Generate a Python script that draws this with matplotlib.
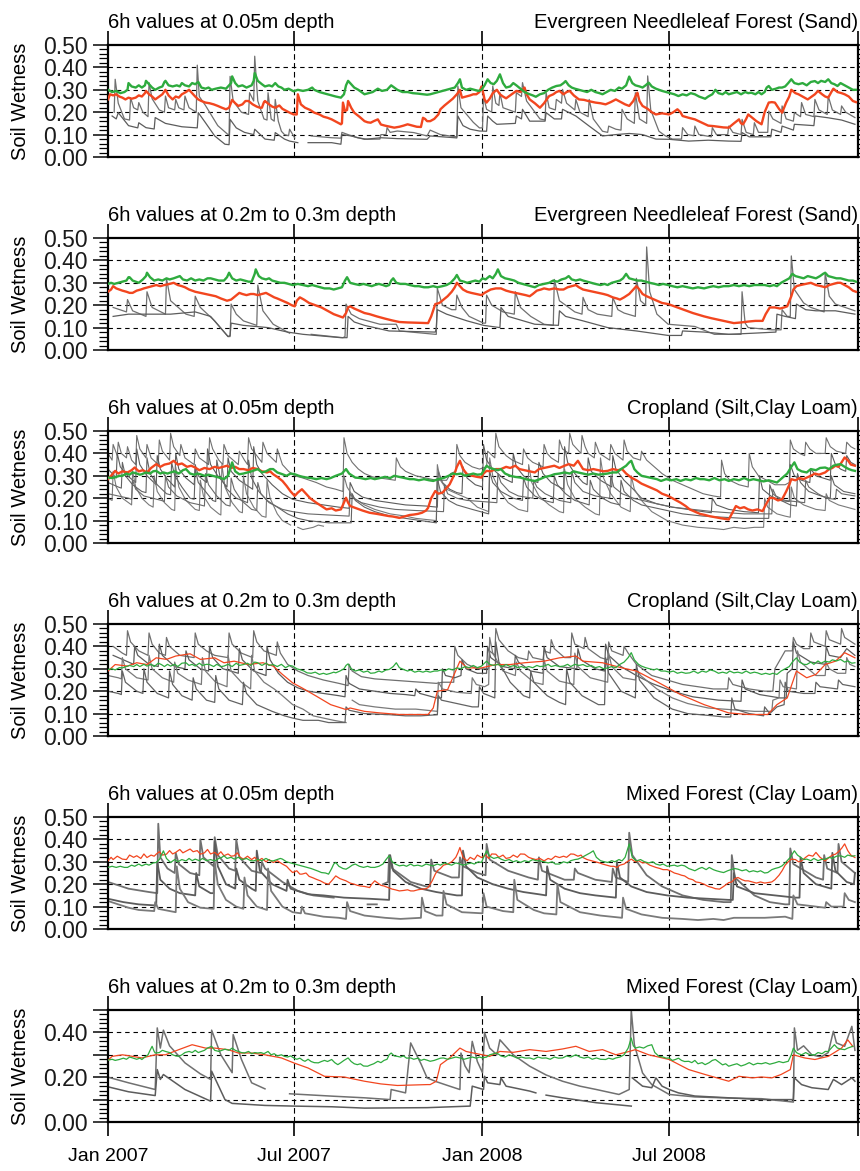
import numpy as np
import pandas as pd
import matplotlib
matplotlib.use('Agg')
import matplotlib.pyplot as plt
from matplotlib.ticker import MultipleLocator, FuncFormatter

plt.rcParams['font.family'] = ['Liberation Sans', 'DejaVu Sans']

nan = np.nan
start = pd.Timestamp('2007-01-01')
end = pd.Timestamp('2009-01-01')

# every series: (days since 1 Jan 2007, soil wetness)
# ---- panel 1: Evergreen Needleleaf Forest, 0.05m
p1_red = [(0,0.257),(2,0.28),(5,0.275),(8,0.28),(11,0.27),(14,0.265),(17,0.257),(20,0.265),(23,0.26),(27,0.265),
          (30,0.275),(33,0.27),(36,0.285),(37,0.295),(40,0.28),(43,0.27),(46,0.257),(50,0.27),(53,0.28),(56,0.30),
          (59,0.275),(63,0.257),(66,0.27),(69,0.265),(72,0.28),(76,0.29),(79,0.30),(82,0.285),(85,0.27),(88,0.257),
          (91,0.25),(95,0.243),(99,0.24),(103,0.235),(107,0.228),(111,0.22),(115,0.213),(118,0.22),(121,0.255),
          (124,0.24),(127,0.228),(131,0.235),(134,0.25),(137,0.25),(141,0.235),(145,0.225),(148,0.22),(150,0.22),
          (152,0.245),(153,0.25),(157,0.235),(160,0.225),(163,0.22),(167,0.23),(170,0.215),(174,0.205),(177,0.198),
          (181,0.19),(184,0.19),(185,0.28),(188,0.235),(192,0.22),(197,0.21),(201,0.198),(206,0.19),(210,0.18),
          (214,0.175),(218,0.168),(222,0.158),(227,0.146),(228,0.15),(229,0.243),(231,0.205),(233,0.21),(234,0.25),
          (237,0.22),(240,0.198),(245,0.18),(250,0.16),(253,0.155),(256,0.153),(259,0.16),(263,0.168),(266,0.145),
          (270,0.14),(275,0.135),(279,0.131),(284,0.135),(288,0.14),(292,0.146),(297,0.14),(301,0.135),(305,0.134),
          (307,0.175),(309,0.17),(311,0.16),(314,0.16),(318,0.17),(322,0.19),(324,0.213),(328,0.23),(332,0.245),
          (336,0.26),(340,0.28),(343,0.30),(345,0.265),(349,0.27),(353,0.275),(356,0.28),(359,0.28),(362,0.29),
          (364,0.315),(366,0.28),(367,0.257),(369,0.243),(372,0.26),(375,0.285),(379,0.30),(382,0.28),(385,0.27),
          (388,0.262),(392,0.275),(395,0.285),(398,0.295),(402,0.29),(406,0.31),(408,0.28),(411,0.257),(416,0.24),
          (421,0.22),(425,0.24),(428,0.26),(430,0.272),(434,0.28),(437,0.29),(440,0.295),(444,0.28),(447,0.29),
          (450,0.295),(454,0.275),(459,0.257),(464,0.255),(468,0.25),(475,0.243),(480,0.24),(485,0.235),(490,0.245),
          (495,0.257),(500,0.245),(504,0.235),(508,0.228),(512,0.25),(515,0.28),(516,0.287),(518,0.25),(521,0.228),
          (526,0.215),(530,0.20),(534,0.19),(540,0.195),(547,0.19),(551,0.20),(555,0.213),(558,0.20),(560,0.183),
          (566,0.175),(572,0.168),(578,0.155),(585,0.14),(590,0.138),(595,0.135),(600,0.132),(605,0.131),(610,0.15),
          (615,0.168),(617,0.15),(619,0.146),(622,0.17),(624,0.19),(628,0.175),(632,0.16),(637,0.146),(640,0.20),
          (644,0.243),(647,0.245),(650,0.243),(654,0.215),(657,0.198),(659,0.22),(661,0.243),(664,0.27),(666,0.30),
          (670,0.285),(673,0.28),(677,0.27),(682,0.257),(686,0.27),(689,0.28),(692,0.295),(696,0.28),(699,0.27),
          (702,0.265),(705,0.29),(707,0.305),(711,0.29),(715,0.285),(718,0.28),(722,0.27),(726,0.25),(729,0.245)]
p1_green = [(0,0.30),(4,0.29),(8,0.295),(12,0.285),(16,0.29),(19,0.30),(20,0.33),(23,0.315),(27,0.31),(30,0.32),
            (33,0.31),(36,0.32),(37,0.34),(40,0.325),(43,0.31),(46,0.30),(50,0.31),(53,0.315),(55,0.335),(56,0.34),
            (59,0.32),(63,0.315),(67,0.32),(70,0.315),(72,0.33),(75,0.32),(79,0.315),(82,0.33),(85,0.325),(88,0.335),
            (91,0.31),(95,0.305),(98,0.31),(101,0.30),(105,0.305),(110,0.31),(115,0.305),(120,0.33),(121,0.36),
            (124,0.33),(127,0.315),(131,0.32),(135,0.31),(140,0.32),(142,0.34),(143,0.375),(146,0.34),(150,0.325),
            (153,0.315),(157,0.32),(160,0.315),(163,0.33),(166,0.315),(169,0.31),(172,0.30),(176,0.305),(181,0.293),
            (185,0.30),(190,0.295),(195,0.30),(199,0.31),(201,0.30),(206,0.29),(210,0.285),(214,0.28),(218,0.275),
            (222,0.27),(227,0.265),(230,0.28),(232,0.32),(234,0.34),(237,0.325),(240,0.31),(244,0.30),(247,0.29),
            (250,0.28),(254,0.285),(258,0.29),(263,0.305),(267,0.295),(272,0.30),(276,0.32),(279,0.31),(282,0.30),
            (287,0.29),(292,0.29),(297,0.285),(302,0.283),(307,0.28),(311,0.278),(314,0.28),(318,0.285),(322,0.29),
            (326,0.295),(330,0.30),(334,0.305),(338,0.31),(341,0.33),(343,0.347),(345,0.31),(349,0.30),(353,0.305),
            (357,0.30),(361,0.295),(364,0.30),(367,0.32),(370,0.347),(373,0.33),(376,0.325),(379,0.34),(382,0.369),
            (385,0.33),(388,0.31),(392,0.315),(395,0.33),(398,0.32),(402,0.305),(406,0.29),(411,0.28),(414,0.275),
            (417,0.269),(421,0.28),(425,0.285),(429,0.30),(433,0.31),(437,0.317),(441,0.32),(444,0.33),(446,0.339),
            (449,0.32),(452,0.31),(455,0.305),(459,0.30),(463,0.295),(467,0.29),(471,0.30),(475,0.29),(479,0.285),
            (482,0.28),(486,0.29),(490,0.30),(494,0.295),(498,0.31),(501,0.305),(505,0.32),(508,0.359),(511,0.33),
            (514,0.32),(518,0.315),(521,0.31),(524,0.32),(527,0.332),(530,0.315),(534,0.305),(537,0.30),(540,0.295),
            (544,0.29),(548,0.285),(552,0.28),(556,0.272),(560,0.28),(564,0.275),(568,0.285),(572,0.28),(576,0.27),
            (579,0.265),(582,0.26),(585,0.27),(589,0.28),(592,0.30),(595,0.285),(599,0.28),(602,0.29),(605,0.28),
            (609,0.285),(613,0.29),(617,0.28),(621,0.29),(624,0.285),(627,0.287),(631,0.28),(634,0.29),(637,0.28),
            (640,0.29),(642,0.31),(644,0.317),(647,0.30),(651,0.305),(654,0.31),(657,0.31),(660,0.315),(663,0.33),
            (666,0.347),(669,0.33),(673,0.325),(677,0.33),(681,0.32),(685,0.335),(689,0.339),(692,0.33),(695,0.34),
            (699,0.335),(702,0.347),(705,0.33),(708,0.325),(711,0.317),(714,0.33),(718,0.32),(722,0.31),(726,0.30),
            (729,0.30)]
p1_grey_a = [(6,0.20),(7,0.347),(10,0.24),(16,0.17),(21,0.165),(22,0.265),(25,0.22),(29,0.21),(30,0.243),(34,0.20),
             (39,0.18),(40,0.332),(43,0.26),(50,0.21),(55,0.20),(56,0.272),(59,0.22),(65,0.21),(66,0.257),(69,0.22),
             (74,0.21),(75,0.272),(79,0.22),(86,0.20),(87,0.41),(89,0.27),(95,0.23),(101,0.185),(107,0.14),(117,0.10),
             (118,0.10),(119,0.36),(122,0.25),(130,0.20),(137,0.19),(138,0.287),(142,0.25),(143,0.45),(146,0.25),
             (152,0.17),(155,0.165),(156,0.287),(159,0.17),(162,0.16),(163,0.257),(166,0.16),(169,0.115),(172,0.10),
             (176,0.095),(177,0.124),(182,0.085),(185,nan),(198,0.094),(218,0.086),(227,0.084),(228,0.11),(234,0.10),
             (243,0.086),(253,0.079),(265,0.08),(266,0.10),(271,0.10),(272,0.131),(275,0.11),(282,0.116),(298,0.109),
             (311,0.094),(314,0.12),(324,0.10),(333,0.094),(340,0.09),(341,0.317),(344,0.22),(356,0.155),(362,0.13),
             (365,0.13),(366,0.272),(369,0.213),(374,0.20),(375,0.317),(378,0.24),(381,0.23),(382,0.287),(385,0.22),
             (397,0.20),(398,0.287),(403,0.27),(404,0.332),(408,0.25),(421,0.17),(426,0.165),(427,0.287),(430,0.22),
             (436,0.21),(437,0.257),(442,0.24),(443,0.302),(447,0.24),(455,0.21),(456,0.257),(460,0.20),(468,0.18),
             (469,0.257),(473,0.17),(482,0.115),(487,0.11),(488,0.138),(495,0.124),(500,0.12),(501,0.213),(506,0.17),
             (513,0.15),(514,0.287),(518,0.17),(525,0.15),(526,0.362),(529,0.21),(537,0.115),(543,0.095),(550,0.08),
             (559,0.08),(560,0.131),(565,0.10),(571,0.095),(572,0.138),(576,0.10),(588,0.09),(589,0.131),(593,0.10),
             (604,0.10),(605,0.138),(609,0.11),(617,0.10),(618,0.168),(622,0.11),(629,0.10),(630,0.153),(634,0.11),
             (643,0.11),(644,0.205),(648,0.17),(656,0.15),(657,0.228),(661,0.17),(668,0.16),(669,0.198),(675,0.18),
             (676,0.243),(680,0.19),(688,0.18),(689,0.257),(693,0.21),(701,0.19),(702,0.272),(706,0.21),(714,0.19),
             (715,0.228),(719,0.20),(728,0.176)]
p1_grey_b = [(4,0.183),(8,0.17),(10,0.198),(20,0.14),(29,0.13),(30,0.153),(37,0.131),(45,0.125),(46,0.176),(56,0.15),
             (72,0.135),(87,0.13),(88,0.198),(95,0.153),(104,0.094),(114,0.057),(118,0.055),(119,0.168),(125,0.13),
             (133,0.11),(142,0.10),(143,0.124),(153,0.08),(162,0.075),(163,0.109),(172,0.08),(177,0.071),(185,0.064),
             (188,nan),(195,0.064),(218,0.064),(227,0.057),(228,0.10),(237,0.094),(250,0.079),(266,0.086),(282,0.082),
             (311,0.079),(314,0.094),(338,0.086),(340,0.085),(341,0.183),(346,0.14),(353,0.124),(362,0.116),
             (369,0.115),(370,0.183),(375,0.16),(379,0.146),(397,0.15),(398,0.183),(403,0.17),(404,0.213),(411,0.16),
             (426,0.16),(427,0.198),(435,0.17),(442,0.17),(443,0.213),(456,0.183),(469,0.138),(482,0.094),(495,0.10),
             (508,0.105),(521,0.10),(534,0.08),(547,0.079),(566,0.071),(585,0.075),(605,0.071),(617,0.07),(618,0.109),
             (625,0.09),(637,0.09),(646,0.09),(647,0.124),(656,0.11),(657,0.138),(668,0.12),(669,0.146),(688,0.14),
             (689,0.183),(702,0.175),(715,0.165),(728,0.146)]

# ---- panel 2: Evergreen Needleleaf Forest, 0.2-0.3m
p2_red = [(0,0.26),(3,0.27),(5,0.285),(8,0.275),(11,0.27),(14,0.265),(18,0.26),(21,0.255),(24,0.255),(28,0.265),
          (32,0.27),(35,0.275),(39,0.28),(43,0.285),(47,0.29),(51,0.285),(55,0.29),(60,0.295),(64,0.30),(68,0.29),
          (72,0.285),(75,0.28),(79,0.27),(85,0.26),(90,0.255),(95,0.25),(100,0.245),(105,0.24),(110,0.23),(116,0.22),
          (120,0.225),(124,0.24),(128,0.255),(131,0.25),(135,0.245),(139,0.25),(142,0.25),(146,0.245),(150,0.25),
          (154,0.255),(158,0.245),(162,0.235),(165,0.23),(170,0.22),(175,0.21),(179,0.20),(182,0.195),(184,0.22),
          (187,0.235),(191,0.225),(196,0.21),(202,0.20),(208,0.19),(214,0.175),(220,0.16),(226,0.15),(229,0.145),
          (232,0.165),(234,0.19),(236,0.195),(240,0.185),(245,0.175),(250,0.165),(255,0.16),(262,0.15),(270,0.14),
          (277,0.132),(284,0.125),(292,0.123),(300,0.122),(306,0.121),(312,0.12),(315,0.15),(319,0.205),(323,0.21),
          (327,0.225),(331,0.24),(335,0.26),(338,0.28),(340,0.30),(343,0.285),(346,0.27),(350,0.26),(354,0.255),
          (359,0.25),(364,0.245),(367,0.255),(369,0.26),(373,0.27),(378,0.275),(383,0.275),(388,0.265),(392,0.26),
          (397,0.255),(402,0.25),(407,0.245),(411,0.24),(414,0.25),(418,0.265),(422,0.27),(425,0.275),(430,0.27),
          (435,0.275),(440,0.27),(444,0.27),(448,0.28),(452,0.285),(456,0.29),(459,0.28),(463,0.27),(468,0.265),
          (473,0.26),(478,0.255),(483,0.25),(487,0.245),(492,0.235),(496,0.23),(499,0.225),(503,0.235),(508,0.25),
          (512,0.27),(515,0.285),(518,0.27),(521,0.25),(525,0.24),(530,0.23),(535,0.22),(540,0.21),(546,0.205),
          (552,0.195),(558,0.185),(564,0.175),(570,0.165),(575,0.158),(581,0.15),(588,0.142),(595,0.135),(602,0.128),
          (610,0.12),(617,0.123),(624,0.127),(631,0.13),(638,0.13),(641,0.16),(645,0.19),(650,0.19),(655,0.185),
          (659,0.19),(662,0.195),(666,0.24),(668,0.27),(671,0.285),(675,0.29),(680,0.295),(685,0.30),(690,0.29),
          (695,0.285),(699,0.28),(703,0.29),(707,0.295),(711,0.30),(714,0.30),(718,0.29),(722,0.28),(726,0.265),
          (729,0.26)]
p2_green = [(0,0.295),(3,0.30),(6,0.295),(10,0.30),(14,0.305),(18,0.31),(20,0.325),(21,0.325),(24,0.31),(27,0.305),
            (30,0.30),(34,0.315),(37,0.33),(38,0.345),(41,0.325),(45,0.31),(49,0.315),(53,0.31),(57,0.32),(60,0.315),
            (64,0.32),(67,0.325),(70,0.33),(73,0.315),(77,0.31),(81,0.32),(85,0.31),(89,0.315),(93,0.31),(97,0.32),
            (100,0.32),(104,0.315),(108,0.31),(113,0.31),(116,0.325),(118,0.345),(121,0.32),(125,0.31),(129,0.315),
            (133,0.31),(137,0.305),(140,0.305),(143,0.34),(144,0.36),(147,0.33),(150,0.32),(154,0.315),(157,0.32),
            (160,0.31),(164,0.305),(168,0.30),(172,0.30),(176,0.295),(180,0.29),(185,0.295),(190,0.29),(195,0.285),
            (199,0.29),(203,0.285),(207,0.28),(211,0.275),(216,0.275),(220,0.27),(224,0.275),(228,0.28),(231,0.31),
            (233,0.325),(236,0.30),(240,0.295),(245,0.29),(249,0.295),(253,0.29),(257,0.285),(260,0.29),(264,0.295),
            (268,0.29),(271,0.285),(274,0.29),(276,0.31),(278,0.32),(281,0.30),(285,0.295),(290,0.295),(294,0.29),
            (299,0.285),(303,0.285),(308,0.28),(312,0.28),(317,0.285),(321,0.28),(326,0.285),(330,0.29),(334,0.30),
            (338,0.32),(340,0.335),(343,0.31),(347,0.305),(350,0.30),(354,0.305),(358,0.31),(362,0.305),(365,0.32),
            (368,0.315),(372,0.33),(375,0.32),(378,0.34),(380,0.36),(383,0.33),(387,0.32),(392,0.315),(396,0.31),
            (400,0.30),(404,0.295),(408,0.29),(412,0.285),(416,0.28),(420,0.29),(425,0.295),(430,0.30),(434,0.31),
            (438,0.305),(442,0.315),(446,0.32),(449,0.33),(452,0.315),(456,0.31),(460,0.315),(463,0.31),(467,0.305),
            (471,0.30),(475,0.295),(480,0.29),(484,0.295),(487,0.29),(491,0.30),(495,0.305),(499,0.31),(502,0.32),
            (505,0.34),(508,0.32),(512,0.315),(516,0.31),(520,0.31),(524,0.305),(528,0.30),(533,0.295),(537,0.29),
            (541,0.295),(546,0.29),(550,0.285),(555,0.28),(560,0.285),(565,0.28),(570,0.275),(575,0.28),(581,0.275),
            (585,0.28),(590,0.285),(595,0.28),(600,0.285),(605,0.285),(610,0.29),(615,0.285),(620,0.29),(625,0.285),
            (630,0.29),(635,0.29),(640,0.29),(645,0.285),(649,0.29),(652,0.285),(656,0.30),(660,0.31),(664,0.32),
            (667,0.34),(670,0.33),(674,0.325),(678,0.32),(682,0.33),(686,0.325),(690,0.32),(694,0.33),(697,0.34),
            (699,0.345),(702,0.33),(706,0.325),(710,0.32),(714,0.32),(718,0.315),(722,0.31),(726,0.31),(729,0.305)]
p2_grey_a = [(5,0.19),(18,0.17),(19,0.225),(24,0.175),(37,0.15),(38,0.26),(43,0.19),(56,0.16),(57,0.32),(61,0.22),
             (76,0.16),(84,0.15),(85,0.24),(90,0.19),(104,0.13),(117,0.06),(119,0.06),(120,0.205),(125,0.16),
             (132,0.13),(145,0.11),(146,0.29),(151,0.175),(161,0.115),(177,0.075),(180,nan),(198,0.07),(229,0.055),
             (231,0.06),(232,0.205),(237,0.16),(245,0.14),(265,0.115),(281,0.115),(284,0.085),(319,0.07),(320,0.07),
             (321,0.275),(326,0.20),(335,0.18),(339,0.18),(340,0.245),(345,0.19),(352,0.15),(366,0.12),(368,0.12),
             (369,0.245),(374,0.20),(385,0.17),(396,0.16),(397,0.26),(402,0.19),(412,0.15),(425,0.115),(434,0.11),
             (435,0.315),(440,0.22),(455,0.17),(462,0.16),(463,0.235),(468,0.18),(477,0.16),(491,0.15),(492,0.235),
             (497,0.18),(503,0.165),(514,0.15),(515,0.32),(519,0.22),(524,0.20),(525,0.46),(528,0.26),(535,0.16),
             (546,0.115),(572,0.105),(591,0.07),(617,0.07),(618,0.26),(621,0.12),(624,0.10),(647,0.09),(656,0.09),
             (657,0.18),(662,0.15),(665,0.15),(666,0.42),(669,0.27),(678,0.21),(685,0.19),(698,0.17),(699,0.345),
             (703,0.24),(709,0.205),(728,0.175)]
p2_grey_b = [(5,0.15),(20,0.16),(40,0.16),(61,0.16),(85,0.17),(100,0.15),(117,0.06),(119,0.065),(120,0.12),
             (132,0.11),(156,0.10),(175,0.08),(190,0.07),(227,0.055),(233,0.055),(234,0.15),(240,0.125),(250,0.11),
             (274,0.085),(319,0.08),(320,0.10),(321,0.18),(330,0.16),(350,0.13),(366,0.11),(382,0.10),(383,0.19),
             (390,0.15),(416,0.115),(439,0.11),(440,0.175),(446,0.15),(463,0.13),(487,0.10),(515,0.085),(546,0.065),
             (559,0.065),(560,0.085),(581,0.08),(605,0.07),(629,0.075),(651,0.08),(652,0.16),(660,0.15),(670,0.14),
             (671,0.205),(680,0.18),(690,0.175),(709,0.175),(728,0.16)]

# ---- panel 3: Cropland, 0.05m
p3_red = [(0,0.285),(3,0.30),(7,0.322),(10,0.31),(14,0.32),(19,0.315),(23,0.325),(26,0.337),(30,0.32),(34,0.325),
          (38,0.315),(42,0.335),(45,0.345),(47,0.352),(51,0.34),(55,0.35),(60,0.355),(64,0.367),(68,0.35),(72,0.355),
          (77,0.34),(81,0.345),(85,0.337),(89,0.325),(94,0.335),(99,0.33),(104,0.34),(108,0.335),(112,0.34),
          (116,0.345),(120,0.335),(124,0.34),(128,0.33),(132,0.33),(137,0.325),(141,0.335),(146,0.33),(150,0.32),
          (155,0.315),(158,0.32),(161,0.307),(165,0.295),(170,0.277),(174,0.255),(178,0.23),(182,0.21),(185,0.225),
          (189,0.24),(193,0.22),(197,0.20),(203,0.18),(208,0.165),(213,0.15),(218,0.155),(222,0.145),(227,0.15),
          (229,0.17),(232,0.202),(234,0.18),(236,0.165),(242,0.155),(248,0.145),(255,0.135),(262,0.13),(268,0.125),
          (274,0.12),(278,0.118),(284,0.112),(290,0.12),(294,0.125),(298,0.127),(302,0.13),(306,0.135),(310,0.145),
          (312,0.157),(315,0.20),(319,0.232),(322,0.22),(326,0.225),(329,0.24),(333,0.262),(337,0.30),(340,0.34),
          (343,0.367),(346,0.33),(350,0.307),(355,0.30),(360,0.295),(364,0.292),(366,0.31),(369,0.322),(373,0.32),
          (378,0.33),(383,0.33),(388,0.34),(392,0.335),(397,0.345),(401,0.33),(406,0.325),(411,0.32),(416,0.315),
          (420,0.33),(425,0.335),(430,0.34),(435,0.345),(440,0.335),(445,0.345),(449,0.352),(454,0.345),(458,0.367),
          (461,0.345),(463,0.33),(468,0.325),(473,0.33),(478,0.325),(483,0.32),(487,0.322),(492,0.33),(497,0.325),
          (501,0.33),(505,0.31),(510,0.292),(515,0.28),(520,0.265),(525,0.255),(530,0.245),(535,0.235),(540,0.22),
          (546,0.21),(552,0.195),(558,0.18),(563,0.165),(567,0.15),(572,0.14),(577,0.13),(582,0.125),(586,0.12),
          (592,0.115),(598,0.11),(605,0.105),(608,0.13),(612,0.165),(616,0.155),(620,0.16),(624,0.15),(628,0.145),
          (633,0.15),(638,0.142),(641,0.17),(645,0.202),(649,0.20),(653,0.19),(657,0.195),(661,0.23),(664,0.26),
          (666,0.285),(670,0.28),(674,0.29),(678,0.285),(681,0.292),(685,0.30),(689,0.31),(693,0.305),(696,0.31),
          (699,0.315),(703,0.33),(706,0.335),(709,0.345),(712,0.34),(715,0.36),(718,0.382),(721,0.37),(724,0.35),
          (728,0.345)]
p3_green = [(0,0.292),(4,0.29),(8,0.295),(11,0.30),(14,0.30),(18,0.31),(21,0.305),(24,0.315),(28,0.31),(31,0.305),
            (33,0.307),(37,0.315),(41,0.31),(44,0.32),(47,0.322),(51,0.31),(54,0.315),(58,0.31),(61,0.315),(65,0.32),
            (69,0.31),(73,0.325),(76,0.33),(80,0.31),(84,0.305),(87,0.31),(90,0.307),(94,0.30),(98,0.305),(102,0.30),
            (106,0.295),(110,0.29),(113,0.285),(117,0.30),(119,0.33),(121,0.36),(124,0.32),(128,0.307),(132,0.31),
            (136,0.315),(140,0.32),(143,0.325),(146,0.33),(150,0.315),(154,0.32),(158,0.33),(161,0.33),(165,0.315),
            (170,0.307),(174,0.30),(178,0.31),(182,0.307),(186,0.30),(190,0.295),(194,0.292),(198,0.29),(203,0.285),
            (208,0.29),(213,0.285),(217,0.29),(222,0.30),(228,0.31),(232,0.33),(235,0.31),(241,0.292),(246,0.29),
            (251,0.285),(256,0.29),(260,0.285),(265,0.29),(270,0.295),(275,0.29),(279,0.30),(284,0.295),(289,0.29),
            (294,0.285),(298,0.285),(303,0.28),(308,0.285),(313,0.28),(317,0.277),(322,0.285),(327,0.29),(332,0.30),
            (336,0.31),(340,0.307),(344,0.31),(348,0.30),(352,0.305),(356,0.31),(360,0.305),(364,0.307),(367,0.33),
            (369,0.345),(372,0.335),(376,0.33),(380,0.325),(383,0.33),(387,0.31),(392,0.30),(397,0.295),(402,0.292),
            (407,0.285),(412,0.28),(416,0.277),(421,0.285),(426,0.295),(431,0.30),(435,0.307),(440,0.31),(445,0.315),
            (450,0.31),(454,0.32),(458,0.315),(463,0.31),(468,0.305),(473,0.31),(478,0.305),(482,0.307),(487,0.31),
            (492,0.315),(496,0.315),(500,0.33),(505,0.345),(508,0.36),(510,0.367),(513,0.33),(516,0.315),(520,0.30),
            (525,0.295),(530,0.29),(535,0.285),(539,0.277),(544,0.285),(549,0.28),(554,0.285),(558,0.277),(563,0.285),
            (568,0.28),(573,0.29),(577,0.285),(581,0.285),(586,0.28),(591,0.29),(596,0.28),(601,0.285),(605,0.277),
            (610,0.285),(615,0.28),(620,0.29),(625,0.28),(629,0.285),(634,0.28),(639,0.275),(644,0.28),(648,0.275),
            (652,0.27),(657,0.29),(662,0.31),(666,0.34),(669,0.36),(672,0.33),(676,0.32),(681,0.315),(685,0.33),
            (690,0.325),(694,0.335),(699,0.337),(703,0.33),(707,0.345),(711,0.35),(714,0.352),(718,0.34),(722,0.33),
            (725,0.325),(728,0.322)]
p3_grey_1 = [(0,0.40),(4,0.37),(5,0.44),(9,0.39),(10,0.45),(13,0.40),(18,0.38),(19,0.43),(23,0.37),(27,0.35),
             (28,0.48),(31,0.42),(37,0.38),(38,0.44),(42,0.38),(49,0.35),(50,0.46),(53,0.41),(60,0.37),(61,0.49),
             (64,0.43),(70,0.39),(71,0.44),(75,0.38),(84,0.35),(85,0.42),(89,0.38),(98,0.35),(99,0.47),(102,0.42),
             (108,0.37),(112,0.35),(113,0.44),(117,0.39),(127,0.35),(128,0.41),(133,0.37),(136,0.35),(137,0.47),
             (140,0.42),(150,0.36),(151,0.45),(155,0.40),(164,0.36),(165,0.42),(170,0.35),(176,0.32),(182,0.30),
             (190,0.29),(203,0.27),(213,0.25),(222,0.24),(229,0.23),(230,0.47),(233,0.40),(238,0.36),(244,0.33),
             (250,0.31),(258,0.295),(265,0.29),(273,0.285),(280,0.28),(281,0.38),(285,0.34),(290,0.32),(300,0.30),
             (310,0.29),(320,0.28),(330,0.28),(334,0.31),(339,0.32),(340,0.44),(343,0.39),(348,0.36),(355,0.34),
             (362,0.33),(369,0.34),(370,0.41),(377,0.38),(378,0.49),(381,0.43),(388,0.39),(394,0.37),(404,0.35),
             (405,0.42),(409,0.38),(414,0.36),(424,0.34),(425,0.44),(428,0.40),(432,0.38),(439,0.36),(440,0.46),
             (443,0.42),(449,0.40),(450,0.49),(453,0.44),(461,0.40),(462,0.48),(465,0.43),(468,0.40),(474,0.38),
             (475,0.45),(479,0.40),(489,0.37),(490,0.44),(494,0.40),(502,0.37),(503,0.46),(506,0.41),(512,0.38),
             (519,0.37),(520,0.41),(525,0.37),(530,0.35),(540,0.31),(550,0.28),(560,0.26),(570,0.24),(580,0.22),
             (590,0.21),(597,0.205),(598,0.37),(601,0.31),(606,0.28),(615,0.26),(624,0.25),(625,0.40),(628,0.34),
             (634,0.30),(642,0.28),(650,0.26),(660,0.26),(664,0.27),(665,0.46),(668,0.42),(674,0.40),(679,0.39),
             (680,0.45),(684,0.42),(690,0.40),(699,0.40),(700,0.47),(704,0.43),(710,0.41),(719,0.40),(720,0.45),
             (724,0.43),(728,0.42)]
p3_grey_2 = [(0,0.33),(8,0.29),(9,0.40),(12,0.34),(19,0.30),(27,0.27),(28,0.42),(31,0.35),(38,0.30),(47,0.26),
             (48,0.39),(51,0.33),(57,0.29),(65,0.25),(66,0.40),(69,0.33),(76,0.29),(84,0.26),(85,0.35),(88,0.30),
             (96,0.27),(97,0.42),(100,0.35),(107,0.30),(116,0.25),(117,0.38),(120,0.32),(128,0.28),(141,0.24),
             (142,0.43),(145,0.35),(150,0.31),(160,0.26),(170,0.22),(180,0.195),(195,0.18),(210,0.17),(225,0.16),
             (235,0.155),(236,0.27),(240,0.23),(248,0.205),(260,0.19),(275,0.18),(290,0.17),(310,0.165),(321,0.16),
             (322,0.32),(326,0.27),(333,0.24),(340,0.225),(345,0.22),(346,0.34),(350,0.29),(358,0.26),(365,0.25),
             (366,0.44),(369,0.37),(375,0.33),(385,0.29),(394,0.27),(395,0.40),(398,0.34),(405,0.30),(412,0.28),
             (419,0.27),(420,0.36),(424,0.31),(432,0.27),(444,0.24),(445,0.43),(448,0.36),(455,0.31),(463,0.27),
             (467,0.26),(468,0.38),(471,0.32),(480,0.28),(491,0.25),(492,0.39),(495,0.33),(503,0.28),(512,0.24),
             (520,0.20),(535,0.175),(550,0.16),(565,0.15),(580,0.14),(588,0.135),(589,0.20),(593,0.17),(605,0.15),
             (620,0.14),(634,0.135),(635,0.30),(638,0.24),(646,0.21),(655,0.19),(664,0.185),(665,0.35),(669,0.30),
             (676,0.28),(684,0.27),(685,0.33),(690,0.30),(697,0.29),(704,0.28),(705,0.40),(709,0.35),(714,0.33),
             (719,0.32),(720,0.39),(724,0.36),(728,0.35)]
p3_grey_3 = [(0,0.20),(4,0.19),(5,0.32),(8,0.25),(14,0.20),(20,0.18),(23,0.17),(24,0.32),(27,0.25),(33,0.20),
             (40,0.17),(44,0.16),(45,0.30),(48,0.23),(55,0.18),(62,0.15),(65,0.145),(66,0.34),(69,0.25),(76,0.19),
             (85,0.15),(89,0.145),(90,0.28),(93,0.21),(100,0.16),(108,0.13),(110,0.125),(111,0.35),(114,0.25),
             (121,0.18),(128,0.14),(131,0.135),(132,0.30),(135,0.22),(142,0.16),(150,0.12),(154,0.115),(155,0.28),
             (158,0.20),(165,0.13),(170,0.10),(178,0.08),(181,nan),(185,0.07),(190,0.06),(200,0.07),(205,0.08),
             (210,0.075),(215,nan),(229,0.16),(230,0.30),(233,0.25),(240,0.20),(250,0.17),(260,0.15),(275,0.13),
             (290,0.12),(300,0.11),(320,0.10),(321,0.35),(324,0.28),(330,0.24),(340,0.22),(350,0.20),(360,0.16),
             (371,0.14),(372,0.38),(375,0.30),(382,0.23),(390,0.18),(400,0.15),(409,0.14),(410,0.35),(413,0.27),
             (420,0.21),(430,0.17),(440,0.14),(444,0.135),(445,0.33),(448,0.26),(455,0.20),(465,0.16),(475,0.13),
             (479,0.125),(480,0.38),(483,0.29),(490,0.22),(500,0.16),(509,0.14),(510,0.30),(513,0.24),(520,0.19),
             (530,0.14),(545,0.10),(560,0.08),(575,0.07),(590,0.065),(600,0.06),(610,0.07),(620,0.065),(630,0.07),
             (639,0.07),(640,0.20),(643,0.16),(652,0.13),(660,0.12),(665,0.115),(666,0.25),(669,0.20),(678,0.17),
             (690,0.15),(699,0.145),(700,0.22),(703,0.19),(712,0.17),(728,0.15)]
p3_grey_4 = [(0,0.27),(10,0.25),(13,0.245),(14,0.36),(17,0.30),(24,0.26),(33,0.23),(37,0.225),(38,0.38),(41,0.31),
             (48,0.26),(57,0.22),(61,0.215),(62,0.36),(65,0.30),(72,0.25),(80,0.20),(84,0.195),(85,0.33),(88,0.27),
             (95,0.23),(102,0.19),(105,0.185),(106,0.37),(109,0.30),(116,0.24),(125,0.20),(136,0.18),(137,0.37),
             (140,0.29),(147,0.23),(155,0.19),(165,0.16),(175,0.13),(185,0.11),(195,0.10),(205,0.095),(215,0.09),
             (225,0.09),(237,0.09),(238,0.22),(241,0.19),(250,0.16),(260,0.14),(275,0.12),(290,0.11),(305,0.10),
             (320,0.09),(321,0.29),(324,0.23),(332,0.19),(340,0.17),(355,0.15),(371,0.13),(372,0.32),(375,0.27),
             (383,0.23),(395,0.20),(404,0.19),(405,0.29),(408,0.25),(416,0.21),(425,0.19),(434,0.18),(435,0.30),
             (438,0.26),(446,0.22),(455,0.19),(469,0.17),(470,0.28),(473,0.24),(482,0.20),(490,0.18),(499,0.17),
             (500,0.28),(503,0.23),(512,0.19),(520,0.17),(540,0.15),(560,0.13),(580,0.12),(600,0.115),(620,0.11),
             (644,0.11),(645,0.26),(648,0.22),(656,0.19),(665,0.17),(671,0.165),(672,0.31),(675,0.27),(683,0.23),
             (695,0.21),(704,0.20),(705,0.30),(708,0.26),(717,0.23),(728,0.22)]
p3_grey_5 = [(0,0.22),(20,0.20),(23,0.195),(24,0.28),(27,0.24),(35,0.21),(52,0.19),(55,0.185),(56,0.30),(59,0.25),
             (67,0.21),(80,0.18),(90,0.17),(94,0.165),(95,0.31),(98,0.26),(106,0.21),(115,0.17),(119,0.165),
             (120,0.29),(123,0.24),(130,0.19),(140,0.15),(145,0.145),(146,0.27),(149,0.22),(157,0.18),(170,0.15),
             (180,0.14),(195,0.13),(215,0.125),(235,0.12),(236,0.22),(239,0.20),(247,0.18),(265,0.16),(280,0.15),
             (300,0.145),(327,0.14),(328,0.26),(331,0.22),(340,0.20),(350,0.19),(365,0.185),(379,0.18),(380,0.31),
             (383,0.27),(391,0.23),(400,0.21),(414,0.20),(415,0.28),(418,0.25),(426,0.22),(440,0.19),(451,0.18),
             (452,0.32),(455,0.27),(463,0.23),(475,0.21),(489,0.20),(490,0.30),(493,0.25),(501,0.22),(512,0.20),
             (530,0.18),(550,0.16),(570,0.15),(590,0.14),(605,0.135),(620,0.13),(647,0.13),(648,0.24),(651,0.21),
             (660,0.19),(670,0.185),(679,0.18),(680,0.28),(683,0.25),(692,0.22),(700,0.20),(709,0.195),(710,0.24),
             (715,0.22),(728,0.21)]

# ---- panel 4: Cropland, 0.2-0.3m
p4_red = [(0,0.29),(7,0.319),(19,0.312),(28,0.327),(38,0.319),(47,0.349),(57,0.342),(66,0.357),
          (80,0.367),(90,0.342),(104,0.349),(113,0.327),(123,0.334),(137,0.319),(151,0.327),(161,0.312),
          (170,0.275),(180,0.237),(189,0.215),(203,0.178),(217,0.14),(232,0.118),(236,0.125),(250,0.11),
          (265,0.103),(284,0.096),(312,0.096),(317,0.125),(321,0.20),(331,0.207),(336,0.26),(343,0.334),
          (350,0.304),(364,0.304),(378,0.319),(392,0.319),(406,0.327),(425,0.334),(440,0.349),(456,0.357),
          (463,0.334),(482,0.327),(501,0.304),(515,0.29),(534,0.245),(558,0.185),(581,0.14),(605,0.103),
          (624,0.096),(643,0.096),(652,0.14),(662,0.17),(671,0.29),(681,0.26),(690,0.275),(699,0.319),
          (709,0.334),(718,0.372),(728,0.349)]
p4_green = [(0,0.297),(4,0.30),(7,0.295),(11,0.305),(14,0.304),(18,0.31),(21,0.315),(25,0.31),(28,0.319),(31,0.31),
            (35,0.32),(38,0.312),(42,0.32),(45,0.31),(49,0.325),(52,0.319),(55,0.31),(58,0.32),(61,0.312),(65,0.32),
            (68,0.31),(72,0.325),(76,0.327),(79,0.315),(82,0.32),(85,0.312),(89,0.325),(92,0.315),(96,0.32),
            (99,0.319),(103,0.31),(106,0.32),(110,0.31),(113,0.312),(117,0.32),(121,0.31),(125,0.325),(128,0.315),
            (132,0.319),(136,0.325),(139,0.315),(143,0.33),(146,0.327),(150,0.315),(154,0.325),(157,0.315),
            (161,0.319),(165,0.31),(169,0.32),(173,0.305),(177,0.315),(180,0.312),(184,0.30),(188,0.295),(191,0.29),
            (194,0.282),(198,0.28),(202,0.285),(206,0.275),(210,0.28),(213,0.275),(217,0.28),(220,0.285),(222,0.282),
            (226,0.29),(230,0.30),(232,0.315),(234,0.322),(237,0.30),(241,0.29),(245,0.295),(249,0.285),(253,0.29),
            (256,0.28),(260,0.282),(264,0.29),(267,0.285),(271,0.295),(274,0.297),(278,0.31),(281,0.327),(284,0.305),
            (288,0.297),(292,0.29),(295,0.295),(299,0.285),(303,0.29),(307,0.285),(310,0.29),(314,0.285),(318,0.29),
            (321,0.29),(325,0.295),(328,0.29),(332,0.30),(336,0.295),(340,0.304),(344,0.30),(348,0.31),(352,0.305),
            (356,0.315),(360,0.305),(364,0.312),(367,0.325),(369,0.334),(372,0.32),(376,0.315),(380,0.32),(384,0.31),
            (388,0.319),(392,0.31),(396,0.315),(399,0.305),(403,0.31),(406,0.304),(410,0.31),(414,0.305),(418,0.315),
            (421,0.31),(425,0.312),(429,0.32),(432,0.31),(436,0.315),(440,0.31),(444,0.312),(448,0.32),(451,0.31),
            (455,0.32),(459,0.315),(463,0.319),(467,0.31),(471,0.315),(475,0.305),(479,0.31),(483,0.30),(487,0.304),
            (491,0.31),(495,0.305),(499,0.32),(503,0.33),(507,0.35),(510,0.372),(513,0.34),(517,0.32),(520,0.312),
            (524,0.305),(528,0.30),(532,0.295),(535,0.30),(539,0.29),(543,0.29),(547,0.285),(551,0.29),(555,0.28),
            (559,0.285),(563,0.28),(567,0.282),(571,0.29),(575,0.28),(579,0.29),(583,0.285),(587,0.295),(591,0.29),
            (595,0.28),(599,0.285),(603,0.28),(606,0.29),(610,0.282),(614,0.285),(618,0.28),(622,0.29),(626,0.28),
            (630,0.285),(633,0.282),(637,0.275),(641,0.28),(645,0.275),(648,0.28),(652,0.275),(656,0.29),(660,0.30),
            (664,0.31),(667,0.33),(669,0.34),(671,0.349),(674,0.33),(678,0.32),(681,0.319),(685,0.33),(688,0.32),
            (692,0.335),(695,0.325),(699,0.334),(703,0.33),(706,0.34),(710,0.335),(714,0.342),(718,0.33),(721,0.335),
            (725,0.325),(728,0.327)]
p4_grey_1 = [(5,0.40),(14,0.37),(18,0.36),(19,0.47),(22,0.42),(30,0.38),(39,0.36),(40,0.46),(43,0.41),(50,0.37),
             (56,0.36),(57,0.44),(60,0.40),(70,0.36),(84,0.35),(85,0.46),(88,0.41),(96,0.38),(104,0.36),(117,0.35),
             (118,0.46),(121,0.41),(130,0.37),(141,0.35),(142,0.47),(145,0.42),(152,0.38),(164,0.36),(165,0.42),
             (168,0.37),(175,0.32),(185,0.29),(195,0.27),(210,0.25),(225,0.235),(234,0.225),(235,0.32),(238,0.29),
             (247,0.265),(260,0.255),(275,0.25),(290,0.245),(305,0.24),(320,0.235),(326,0.24),(337,0.24),(338,0.40),
             (341,0.36),(350,0.32),(360,0.30),(371,0.30),(372,0.38),(377,0.36),(378,0.48),(381,0.43),(390,0.38),
             (400,0.35),(409,0.34),(410,0.38),(414,0.35),(424,0.34),(425,0.38),(431,0.37),(432,0.43),(435,0.39),
             (445,0.35),(451,0.35),(452,0.46),(455,0.41),(464,0.39),(465,0.44),(468,0.39),(480,0.35),(487,0.34),
             (488,0.42),(491,0.38),(502,0.36),(503,0.40),(507,0.37),(515,0.32),(530,0.27),(545,0.25),(560,0.23),
             (575,0.22),(590,0.21),(604,0.21),(605,0.26),(609,0.23),(625,0.21),(640,0.20),(648,0.20),(650,0.30),
             (655,0.34),(660,0.38),(667,0.38),(668,0.44),(671,0.41),(678,0.39),(684,0.39),(685,0.46),(688,0.42),
             (699,0.40),(700,0.47),(703,0.43),(714,0.41),(715,0.48),(718,0.44),(728,0.41)]
p4_grey_2 = [(5,0.36),(20,0.33),(25,0.32),(26,0.40),(29,0.36),(40,0.32),(49,0.31),(50,0.41),(53,0.36),(65,0.31),
             (75,0.30),(76,0.38),(79,0.34),(90,0.30),(98,0.29),(99,0.40),(102,0.35),(112,0.30),(127,0.28),(128,0.39),
             (131,0.34),(142,0.29),(154,0.27),(155,0.40),(158,0.34),(166,0.28),(175,0.24),(185,0.215),(195,0.20),
             (210,0.19),(225,0.18),(231,0.175),(232,0.27),(235,0.235),(245,0.21),(260,0.20),(275,0.19),(290,0.185),
             (299,0.18),(300,0.21),(304,0.19),(320,0.17),(325,0.17),(326,0.30),(329,0.27),(338,0.26),(344,0.27),
             (345,0.34),(349,0.30),(360,0.28),(369,0.28),(370,0.40),(373,0.35),(385,0.31),(396,0.30),(397,0.36),
             (400,0.33),(412,0.29),(424,0.28),(425,0.40),(428,0.35),(440,0.31),(457,0.30),(458,0.39),(461,0.34),
             (475,0.30),(484,0.29),(485,0.41),(488,0.36),(500,0.31),(515,0.27),(530,0.235),(550,0.20),(570,0.175),
             (595,0.16),(617,0.155),(618,0.25),(621,0.21),(635,0.185),(655,0.17),(661,0.17),(662,0.28),(667,0.30),
             (668,0.42),(671,0.37),(685,0.33),(699,0.32),(700,0.40),(703,0.36),(714,0.35),(720,0.39),(728,0.36)]
p4_grey_3 = [(0,0.27),(10,0.26),(13,0.255),(14,0.35),(17,0.30),(28,0.26),(39,0.25),(40,0.36),(43,0.30),(53,0.26),
             (64,0.24),(65,0.33),(68,0.28),(78,0.25),(91,0.23),(92,0.35),(95,0.29),(105,0.24),(116,0.22),(117,0.36),
             (120,0.29),(130,0.24),(139,0.21),(140,0.36),(143,0.29),(152,0.24),(162,0.21),(170,0.18),(180,0.14),
             (190,0.12),(200,0.09),(210,0.08),(220,0.07),(232,0.06),(235,nan),(238,0.16),(245,0.14),(260,0.13),
             (280,0.12),(300,0.12),(321,0.11),(322,0.24),(326,0.21),(340,0.195),(354,0.19),(355,0.26),(359,0.23),
             (367,0.22),(371,0.23),(372,0.44),(375,0.37),(385,0.29),(397,0.27),(398,0.33),(402,0.29),(415,0.24),
             (424,0.23),(425,0.34),(428,0.29),(440,0.245),(454,0.23),(455,0.37),(458,0.31),(470,0.26),(487,0.24),
             (488,0.37),(491,0.31),(502,0.26),(514,0.25),(515,0.30),(519,0.27),(535,0.21),(550,0.17),(565,0.145),
             (585,0.125),(600,0.12),(615,0.115),(630,0.11),(647,0.11),(648,0.16),(654,0.17),(655,0.25),(658,0.22),
             (671,0.21),(672,0.38),(675,0.33),(690,0.27),(699,0.27),(700,0.33),(703,0.30),(711,0.28),(719,0.28),
             (720,0.35),(723,0.32),(728,0.31)]
p4_grey_4 = [(0,0.20),(10,0.19),(13,0.185),(14,0.29),(17,0.24),(28,0.20),(34,0.19),(35,0.30),(38,0.24),(48,0.19),
             (59,0.17),(60,0.29),(63,0.23),(72,0.18),(82,0.16),(83,0.26),(86,0.21),(96,0.16),(104,0.15),(105,0.27),
             (108,0.21),(118,0.16),(131,0.14),(132,0.24),(135,0.19),(145,0.14),(160,0.11),(172,0.09),(180,0.08),
             (190,0.07),(205,0.07),(215,0.06),(231,0.06),(232,0.13),(235,0.115),(250,0.10),(275,0.095),(290,0.09),
             (305,0.09),(321,0.095),(322,0.18),(325,0.16),(340,0.145),(355,0.13),(361,0.13),(362,0.22),(366,0.19),
             (377,0.17),(378,0.42),(381,0.33),(392,0.24),(405,0.18),(411,0.17),(412,0.29),(415,0.24),(428,0.18),
             (440,0.15),(446,0.14),(447,0.30),(450,0.24),(462,0.18),(478,0.14),(484,0.14),(485,0.35),(488,0.28),
             (500,0.20),(514,0.17),(515,0.32),(518,0.25),(532,0.17),(550,0.12),(565,0.10),(590,0.09),(600,0.085),
             (607,0.085),(608,0.17),(611,0.12),(625,0.10),(639,0.09),(640,0.13),(645,0.10),(652,0.13),(659,0.14),
             (660,0.24),(663,0.20),(678,0.19),(689,0.19),(690,0.24),(694,0.22),(711,0.21),(712,0.25),(716,0.23),
             (728,0.22)]

# ---- panel 5: Mixed Forest, 0.05m
p5_red = [(0,0.304),(3,0.32),(5,0.31),(9,0.325),(14,0.312),(18,0.31),(21,0.33),(25,0.32),(28,0.327),(32,0.315),
          (35,0.335),(38,0.319),(42,0.33),(45,0.325),(47,0.334),(50,0.345),(53,0.33),(57,0.334),(60,0.35),(63,0.335),
          (66,0.342),(70,0.355),(73,0.34),(77,0.35),(80,0.357),(83,0.345),(87,0.35),(90,0.334),(94,0.34),(97,0.355),
          (100,0.335),(104,0.342),(107,0.33),(110,0.345),(113,0.327),(117,0.335),(120,0.325),(123,0.327),(126,0.34),
          (129,0.32),(132,0.312),(136,0.325),(140,0.31),(143,0.32),(146,0.304),(150,0.315),(154,0.30),(157,0.31),
          (161,0.297),(165,0.305),(170,0.29),(174,0.28),(177,0.265),(180,0.252),(184,0.26),(187,0.245),(189,0.245),
          (193,0.25),(196,0.235),(200,0.228),(203,0.222),(207,0.215),(211,0.205),(215,0.20),(218,0.215),(222,0.237),
          (226,0.225),(229,0.22),(232,0.215),(236,0.205),(240,0.20),(243,0.195),(246,0.192),(250,0.19),(255,0.185),
          (257,0.20),(260,0.215),(263,0.205),(266,0.195),(269,0.192),(273,0.185),(277,0.178),(280,0.175),(284,0.17),
          (288,0.172),(292,0.175),(295,0.17),(298,0.17),(302,0.175),(306,0.178),(310,0.18),(312,0.185),(316,0.215),
          (319,0.245),(321,0.26),(324,0.27),(327,0.285),(331,0.29),(335,0.30),(339,0.32),(341,0.34),(343,0.364),
          (346,0.32),(350,0.304),(353,0.32),(357,0.31),(360,0.33),(364,0.319),(368,0.33),(371,0.315),(374,0.335),
          (378,0.334),(381,0.32),(385,0.33),(388,0.315),(392,0.319),(395,0.33),(399,0.32),(402,0.335),(406,0.334),
          (410,0.32),(413,0.315),(417,0.31),(421,0.315),(425,0.304),(429,0.315),(432,0.31),(436,0.325),(440,0.319),
          (444,0.325),(447,0.32),(451,0.335),(454,0.334),(458,0.325),(461,0.33),(463,0.319),(467,0.31),(471,0.305),
          (475,0.30),(479,0.295),(482,0.29),(486,0.285),(490,0.28),(493,0.28),(496,0.275),(499,0.285),(503,0.29),
          (506,0.30),(510,0.312),(514,0.30),(517,0.305),(521,0.295),(524,0.297),(528,0.285),(531,0.28),(534,0.275),
          (538,0.27),(541,0.265),(545,0.265),(548,0.26),(552,0.25),(556,0.245),(559,0.24),(562,0.237),(566,0.225),
          (570,0.22),(573,0.21),(577,0.207),(581,0.20),(585,0.19),(589,0.185),(592,0.18),(596,0.178),(600,0.19),
          (605,0.207),(608,0.21),(611,0.225),(614,0.23),(618,0.22),(621,0.215),(624,0.215),(628,0.21),(632,0.205),
          (636,0.21),(640,0.205),(643,0.207),(647,0.21),(650,0.22),(654,0.24),(657,0.26),(660,0.285),(663,0.30),
          (666,0.312),(670,0.31),(673,0.30),(676,0.304),(680,0.32),(683,0.33),(687,0.325),(690,0.342),(694,0.32),
          (697,0.31),(699,0.304),(703,0.32),(706,0.33),(709,0.334),(712,0.345),(715,0.36),(718,0.38),(721,0.35),
          (724,0.33),(728,0.319)]
p5_green = [(0,0.275),(4,0.28),(8,0.275),(12,0.28),(16,0.275),(19,0.275),(23,0.285),(26,0.28),(30,0.29),(33,0.282),
            (37,0.29),(40,0.285),(44,0.295),(47,0.297),(50,0.31),(52,0.33),(54,0.349),(57,0.315),(61,0.297),(65,0.31),
            (68,0.30),(72,0.31),(76,0.304),(79,0.315),(82,0.305),(85,0.312),(89,0.305),(92,0.315),(96,0.305),
            (100,0.31),(104,0.304),(108,0.315),(111,0.32),(113,0.327),(116,0.315),(120,0.32),(123,0.312),(127,0.32),
            (131,0.31),(135,0.315),(139,0.305),(142,0.304),(146,0.31),(150,0.305),(154,0.315),(158,0.305),(161,0.304),
            (165,0.31),(168,0.315),(170,0.312),(174,0.30),(178,0.295),(182,0.29),(186,0.285),(190,0.28),(194,0.275),
            (198,0.27),(201,0.265),(205,0.258),(208,0.252),(212,0.25),(215,0.245),(218,0.27),(220,0.29),(222,0.297),
            (225,0.28),(229,0.27),(232,0.267),(235,0.275),(238,0.285),(241,0.29),(245,0.28),(249,0.275),(253,0.28),
            (256,0.275),(260,0.275),(264,0.28),(268,0.29),(271,0.31),(274,0.327),(277,0.30),(280,0.29),(284,0.282),
            (288,0.285),(291,0.28),(295,0.29),(298,0.282),(302,0.285),(306,0.28),(310,0.29),(314,0.285),(317,0.282),
            (321,0.29),(324,0.285),(328,0.295),(331,0.29),(335,0.285),(339,0.295),(343,0.29),(346,0.285),(350,0.29),
            (354,0.295),(357,0.29),(361,0.30),(364,0.297),(367,0.33),(369,0.349),(372,0.325),(376,0.315),(380,0.32),
            (383,0.312),(387,0.305),(391,0.31),(395,0.30),(398,0.305),(402,0.297),(406,0.305),(410,0.30),(414,0.31),
            (417,0.305),(421,0.304),(425,0.30),(429,0.295),(433,0.30),(436,0.29),(440,0.29),(444,0.30),(448,0.295),
            (451,0.305),(455,0.31),(458,0.312),(462,0.32),(466,0.33),(470,0.34),(473,0.349),(476,0.32),(480,0.305),
            (484,0.30),(487,0.297),(491,0.305),(494,0.30),(498,0.31),(501,0.304),(504,0.32),(506,0.35),(508,0.38),
            (511,0.32),(515,0.304),(519,0.31),(523,0.30),(527,0.295),(531,0.30),(534,0.29),(538,0.285),(541,0.29),
            (545,0.28),(548,0.282),(552,0.285),(555,0.28),(559,0.285),(562,0.282),(566,0.27),(569,0.265),(572,0.26),
            (576,0.27),(579,0.275),(583,0.265),(586,0.275),(590,0.265),(593,0.26),(597,0.255),(600,0.252),(604,0.26),
            (607,0.265),(611,0.27),(614,0.267),(618,0.26),(622,0.265),(625,0.255),(629,0.26),(633,0.255),(636,0.26),
            (640,0.25),(643,0.252),(647,0.265),(650,0.27),(654,0.275),(657,0.282),(661,0.30),(665,0.32),(667,0.335),
            (669,0.349),(672,0.33),(675,0.32),(678,0.31),(681,0.312),(685,0.305),(688,0.315),(692,0.305),(695,0.31),
            (699,0.312),(703,0.32),(706,0.315),(710,0.325),(714,0.327),(718,0.32),(721,0.33),(725,0.325),(728,0.327)]
p5_grey_1 = [(0,0.21),(20,0.18),(40,0.165),(48,0.16),(49,0.47),(51,0.32),(58,0.27),(65,0.25),(66,0.34),(69,0.29),
             (80,0.25),(89,0.24),(90,0.40),(93,0.32),(103,0.28),(104,0.41),(107,0.33),(118,0.27),(124,0.26),
             (125,0.40),(128,0.32),(140,0.26),(149,0.25),(150,0.30),(153,0.27),(170,0.21),(185,0.17),(200,0.15),
             (220,0.14),(222,nan),(253,0.11),(262,0.11),(263,nan),(268,0.20),(273,0.21),(274,0.33),(277,0.27),
             (295,0.21),(310,0.19),(314,0.19),(315,0.31),(318,0.26),(335,0.23),(342,0.23),(343,0.32),(346,0.28),
             (360,0.25),(368,0.24),(369,0.38),(372,0.31),(390,0.26),(410,0.23),(419,0.22),(420,0.32),(423,0.26),
             (445,0.22),(454,0.22),(455,0.27),(458,0.25),(475,0.22),(491,0.21),(492,0.27),(495,0.23),(507,0.21),
             (508,0.43),(511,0.33),(525,0.24),(540,0.19),(560,0.15),(580,0.13),(600,0.12),(607,0.12),(608,0.33),
             (611,0.23),(630,0.15),(645,0.12),(660,0.11),(664,0.11),(665,0.36),(668,0.29),(690,0.23),(697,0.22),
             (698,0.33),(701,0.27),(711,0.25),(712,0.38),(715,0.30),(728,0.25)]
p5_grey_2 = [(0,0.135),(15,0.12),(30,0.11),(47,0.105),(48,0.30),(51,0.22),(60,0.18),(70,0.16),(85,0.15),(86,0.25),
             (89,0.19),(100,0.16),(103,0.16),(104,0.39),(107,0.28),(115,0.20),(124,0.18),(125,0.27),(128,0.22),
             (140,0.18),(144,0.17),(145,0.35),(148,0.26),(160,0.20),(174,0.17),(175,0.22),(178,0.18),(195,0.155),
             (210,0.15),(230,0.14),(255,0.135),(274,0.13),(275,0.33),(278,0.26),(290,0.21),(305,0.18),(320,0.165),
             (340,0.15),(345,0.15),(346,0.35),(349,0.28),(360,0.23),(375,0.20),(390,0.18),(405,0.165),(420,0.155),
             (427,0.15),(428,0.28),(431,0.22),(445,0.18),(460,0.16),(475,0.15),(495,0.14),(496,0.30),(499,0.23),
             (510,0.19),(525,0.165),(545,0.15),(565,0.14),(585,0.135),(605,0.13),(609,0.13),(610,0.25),(613,0.19),
             (630,0.16),(650,0.15),(670,0.14),(674,0.14),(675,0.32),(678,0.25),(690,0.20),(705,0.18),(706,0.34),
             (709,0.26),(720,0.21),(727,0.20),(728,0.25)]
p5_grey_3 = [(0,0.125),(10,0.11),(20,0.095),(30,0.085),(45,0.08),(46,0.12),(49,0.09),(66,0.075),(67,0.28),(70,0.18),
             (78,0.12),(90,0.095),(103,0.09),(104,0.30),(107,0.20),(115,0.13),(125,0.10),(132,0.09),(133,0.23),
             (136,0.15),(145,0.10),(155,0.085),(156,0.27),(159,0.17),(170,0.10),(180,0.075),(188,0.07),(189,0.10),
             (192,0.07),(210,0.055),(225,0.05),(232,0.045),(233,0.12),(236,0.08),(250,0.06),(270,0.05),(285,0.045),
             (305,0.05),(306,0.14),(309,0.08),(320,0.06),(326,0.06),(327,0.17),(330,0.11),(345,0.075),(365,0.07),
             (366,0.16),(369,0.10),(385,0.08),(395,0.075),(396,0.22),(399,0.13),(415,0.085),(425,0.07),(437,0.065),
             (438,0.20),(441,0.12),(460,0.075),(480,0.06),(501,0.05),(502,0.14),(505,0.09),(520,0.065),(540,0.05),
             (560,0.045),(575,0.04),(590,0.045),(600,0.04),(610,0.05),(640,0.05),(660,0.055),(667,0.045),(668,0.15),
             (672,0.11),(690,0.10),(699,0.095),(700,0.12),(705,0.10),(717,0.10),(718,0.16),(722,0.13),(728,0.12)]

# ---- panel 6: Mixed Forest, 0.2-0.3m
p6_red = [(0,0.276),(4,0.293),(14,0.30),(24,0.293),(33,0.286),(46,0.30),(56,0.30),(69,0.323),(82,0.345),
          (95,0.33),(104,0.33),(117,0.323),(127,0.308),(140,0.308),(153,0.30),(169,0.286),(181,0.264),
          (195,0.241),(211,0.204),(230,0.201),(250,0.182),(266,0.17),(282,0.163),(311,0.167),(314,0.167),
          (320,0.182),(324,0.256),(333,0.286),(343,0.33),(349,0.315),(356,0.308),(365,0.30),(372,0.293),
          (382,0.315),(395,0.311),(411,0.323),(427,0.315),(443,0.326),(456,0.338),(469,0.315),(482,0.323),
          (495,0.30),(508,0.315),(514,0.323),(527,0.30),(547,0.279),(566,0.234),(582,0.212),(605,0.182),
          (615,0.204),(628,0.197),(637,0.201),(647,0.197),(656,0.212),(665,0.234),(668,0.30),(679,0.286),
          (689,0.279),(702,0.293),(715,0.33),(721,0.367),(726,0.337)]
p6_green = [(0,0.276),(4,0.28),(7,0.275),(11,0.279),(15,0.285),(18,0.28),(21,0.29),(24,0.286),(28,0.28),(31,0.285),
            (33,0.279),(36,0.29),(39,0.30),(41,0.32),(43,0.338),(45,0.315),(46,0.308),(50,0.31),(53,0.32),(56,0.315),
            (60,0.31),(63,0.30),(66,0.295),(69,0.293),(72,0.30),(75,0.31),(79,0.315),(82,0.31),(85,0.32),(88,0.31),
            (91,0.315),(94,0.32),(97,0.33),(101,0.338),(104,0.32),(108,0.315),(111,0.32),(114,0.325),(118,0.32),
            (121,0.33),(124,0.32),(127,0.315),(130,0.31),(133,0.308),(137,0.315),(140,0.305),(143,0.31),(146,0.308),
            (149,0.31),(152,0.305),(156,0.315),(159,0.30),(162,0.305),(165,0.295),(169,0.30),(172,0.293),(175,0.29),
            (178,0.295),(181,0.286),(184,0.28),(187,0.285),(190,0.275),(192,0.271),(195,0.28),(198,0.27),(201,0.265),
            (205,0.264),(208,0.27),(211,0.275),(214,0.27),(218,0.279),(221,0.265),(224,0.256),(227,0.265),(230,0.275),
            (234,0.286),(237,0.27),(240,0.26),(243,0.256),(246,0.26),(249,0.25),(253,0.249),(256,0.255),(259,0.26),
            (263,0.271),(266,0.265),(269,0.275),(272,0.28),(274,0.30),(276,0.308),(279,0.295),(282,0.293),(285,0.29),
            (288,0.295),(291,0.285),(295,0.286),(298,0.28),(302,0.285),(305,0.275),(308,0.28),(311,0.276),(314,0.271),
            (318,0.275),(321,0.28),(324,0.285),(327,0.286),(331,0.28),(335,0.285),(339,0.29),(343,0.286),(347,0.28),
            (351,0.285),(355,0.29),(359,0.285),(362,0.29),(365,0.286),(369,0.29),(372,0.30),(376,0.305),(379,0.308),
            (383,0.295),(387,0.29),(391,0.30),(395,0.293),(399,0.285),(403,0.29),(407,0.285),(411,0.286),(415,0.28),
            (419,0.29),(423,0.285),(427,0.286),(431,0.28),(435,0.29),(439,0.285),(443,0.286),(447,0.295),(451,0.29),
            (456,0.30),(460,0.29),(464,0.285),(468,0.29),(472,0.28),(476,0.286),(480,0.28),(485,0.279),(488,0.285),
            (492,0.28),(495,0.286),(499,0.29),(503,0.30),(507,0.33),(510,0.375),(512,0.34),(514,0.33),(518,0.335),
            (522,0.33),(526,0.34),(530,0.345),(533,0.31),(537,0.293),(541,0.29),(544,0.285),(547,0.286),(550,0.275),
            (553,0.279),(556,0.285),(559,0.275),(562,0.27),(566,0.271),(569,0.265),(572,0.275),(575,0.26),(579,0.265),
            (582,0.256),(586,0.265),(589,0.275),(592,0.279),(596,0.265),(599,0.255),(602,0.26),(605,0.249),(609,0.255),
            (613,0.26),(617,0.25),(621,0.256),(625,0.265),(629,0.255),(633,0.262),(637,0.26),(641,0.265),(645,0.258),
            (650,0.264),(654,0.27),(658,0.265),(663,0.271),(666,0.30),(668,0.33),(671,0.31),(673,0.305),(676,0.30),
            (680,0.31),(684,0.30),(689,0.30),(692,0.31),(696,0.305),(699,0.315),(702,0.315),(705,0.33),(708,0.345),
            (711,0.33),(715,0.325),(718,0.323),(721,0.33),(724,0.335),(726,0.338)]
p6_grey_1 = [(0,0.20),(20,0.175),(46,0.145),(48,0.42),(51,0.33),(54,0.41),(60,0.34),(75,0.264),
             (90,0.215),(100,0.19),(101,0.41),(110,0.30),(121,0.22),(122,0.39),(130,0.28),(140,0.175),
             (153,0.148),(160,nan),(177,0.126),(220,0.115),(250,0.108),(275,0.10),(276,0.145),(290,0.13),
             (295,0.353),(305,0.26),(311,0.197),(320,0.18),(333,0.16),(343,0.145),(344,0.308),(348,0.25),
             (352,0.22),(355,0.36),(360,0.27),(365,0.22),(367,0.40),(372,0.33),(379,0.30),(382,0.367),
             (395,0.30),(411,0.249),(427,0.21),(443,0.182),(460,0.16),(476,0.145),(498,0.123),(508,0.145),
             (510,0.50),(513,0.345),(521,0.219),(530,0.167),(547,0.123),(572,0.112),(605,0.107),(637,0.104),
             (668,0.089),(669,0.42),(672,0.32),(678,0.34),(686,0.30),(695,0.29),(702,0.31),(707,0.405),
             (710,0.353),(718,0.338),(725,0.427),(728,0.32)]
p6_grey_2 = [(0,0.157),(20,0.135),(46,0.118),(48,0.234),(51,0.19),(54,0.212),(75,0.145),(100,0.093),
             (101,0.227),(114,0.10),(121,0.083),(153,0.074),(181,0.071),(218,0.068),(250,0.062),(311,0.064),
             (353,0.071),(355,0.16),(366,0.145),(367,0.204),(370,0.175),(382,0.167),(383,0.197),(388,0.16),
             (411,0.138),(417,0.13),(420,nan),(427,0.12),(443,0.108),(476,0.086),(510,0.071),(510.5,nan),
             (511,0.197),(521,0.16),(530,0.153),(534,0.197),(540,0.16),(547,0.145),(556,0.13),(572,0.116),
             (605,0.108),(637,0.10),(668,0.10),(669,0.197),(676,0.167),(686,0.153),(702,0.145),(707,0.19),
             (715,0.167),(725,0.197),(728,0.182)]

left_titles = ['6h values at 0.05m depth', '6h values at 0.2m to 0.3m depth'] * 3
right_titles = ['Evergreen Needleleaf Forest (Sand)'] * 2 + ['Cropland (Silt,Clay Loam)'] * 2 \
    + ['Mixed Forest (Clay Loam)'] * 2
grey_sets = [[p1_grey_a, p1_grey_b], [p2_grey_a, p2_grey_b],
             [p3_grey_1, p3_grey_2, p3_grey_3, p3_grey_4, p3_grey_5],
             [p4_grey_1, p4_grey_2, p4_grey_3, p4_grey_4],
             [p5_grey_1, p5_grey_2, p5_grey_3], [p6_grey_1, p6_grey_2]]
reds = [p1_red, p2_red, p3_red, p4_red, p5_red, p6_red]
greens = [p1_green, p2_green, p3_green, p4_green, p5_green, p6_green]
tick_dates = pd.to_datetime(['2007-01-01', '2007-07-01', '2008-01-01', '2008-07-01', '2009-01-01'])
tick_names = ['Jan 2007', 'Jul 2007', 'Jan 2008', 'Jul 2008', '']

RED = '#f2461f'
GREEN = '#2eab3e'
grey_cols = ['#707070', '#5c5c5c', '#7a7a7a', '#636363', '#6a6a6a']
main_lw = [1.7, 1.7, 1.7, 0.9, 0.9, 0.9]
grey_lw = [0.9, 0.9, 0.8, 0.9, 1.3, 1.1]


def to_xy(pts):
    a = np.array(pts, dtype=float)
    return start + pd.to_timedelta(a[:, 0], unit='D'), a[:, 1]


W, H = 860., 1171.
tops = [45, 238, 431, 624, 817, 1010]

fig = plt.figure(figsize=(8.6, 11.71), dpi=100)
for i in range(6):
    ax = fig.add_axes([108 / W, 1 - (tops[i] + 112) / H, 750 / W, 112 / H])
    for j, g in enumerate(grey_sets[i]):
        x, y = to_xy(g)
        ax.plot(x, y, color=grey_cols[j % len(grey_cols)], lw=grey_lw[i], zorder=2)
    x, y = to_xy(reds[i])
    ax.plot(x, y, color=RED, lw=main_lw[i], zorder=3)
    x, y = to_xy(greens[i])
    ax.plot(x, y, color=GREEN, lw=main_lw[i], zorder=4)

    for v in [0.1, 0.2, 0.3, 0.4]:
        ax.axhline(v, color='k', lw=0.8, ls=(0, (4, 3.5)), zorder=1)
    for t in tick_dates[1:4]:
        ax.axvline(t, color='k', lw=0.8, ls=(0, (5, 3)), zorder=1)

    ax.set_xlim(start, end)
    ax.set_ylim(0, 0.5)
    ax.yaxis.set_major_locator(MultipleLocator(0.1))
    ax.yaxis.set_minor_locator(MultipleLocator(0.02))
    if i == 5:
        ax.yaxis.set_major_formatter(FuncFormatter(
            lambda v, p: '%.2f' % v if round(v * 10) % 2 == 0 and v < 0.45 else ''))
    else:
        ax.yaxis.set_major_formatter(FuncFormatter(lambda v, p: '%.2f' % v))
    ax.tick_params(axis='y', which='major', direction='out', length=10.5, width=1.2,
                   labelsize=16.5, pad=4, left=True, right=True, colors='#1a1a1a')
    ax.tick_params(axis='y', which='minor', direction='out', length=6.5, width=0.9,
                   left=True, right=True)
    ax.set_xticks(tick_dates)
    if i == 5:
        ax.set_xticklabels(tick_names)
        ax.tick_params(axis='x', direction='out', length=10, width=1.2, top=True, bottom=True,
                       labeltop=False, labelbottom=True, labelsize=14, pad=9)
    else:
        ax.set_xticklabels([])
        ax.tick_params(axis='x', direction='out', length=10, width=1.2, top=True, bottom=False,
                       labeltop=False, labelbottom=False)
    for s in ax.spines.values():
        s.set_linewidth(1.6)
    ax.set_ylabel('Soil Wetness', fontsize=14.5)
    ax.yaxis.set_label_coords(-0.104, 0.5)
    ax.text(0.0, 1.0 + 17 / 112., left_titles[i], transform=ax.transAxes, fontsize=14.5,
            ha='left', va='baseline')
    ax.text(1.0, 1.0 + 17 / 112., right_titles[i], transform=ax.transAxes, fontsize=14.5,
            ha='right', va='baseline')

fig.savefig('out.png', dpi=100)
